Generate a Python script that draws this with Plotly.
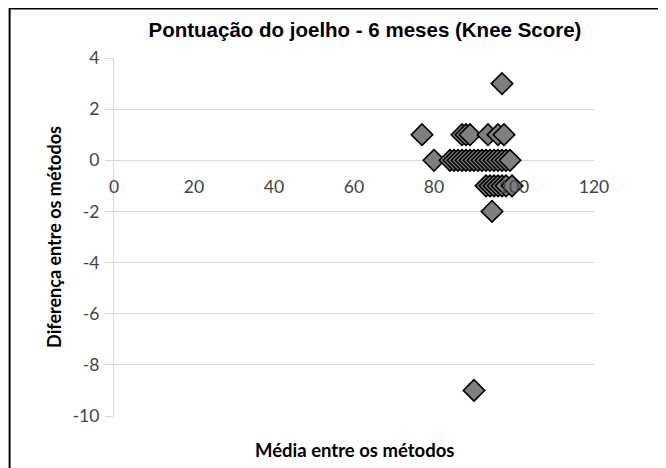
import plotly.graph_objects as go

# Média entre os métodos (x) and Diferença entre os métodos (y)
media = [77, 97,
         87, 88, 89, 93.5, 96, 97.5,
         80, 84, 85, 86, 87, 88, 89, 90, 91, 92, 93, 94, 95, 96, 97, 98, 99,
         93, 94, 95, 96, 97, 98, 99.5,
         94.5, 90]
diferenca = [1, 3,
             1, 1, 1, 1, 1, 1,
             0, 0, 0, 0, 0, 0, 0, 0, 0, 0, 0, 0, 0, 0, 0, 0, 0,
             -1, -1, -1, -1, -1, -1, -1,
             -2, -9]

x_ticks = [0, 20, 40, 60, 80, 100, 120]
y_ticks = [4, 2, 0, -2, -4, -6, -8, -10]
y_ticktext = ["4", "2", "0", "-2", "-4", "-6", "-8", "-10"]

title_text = "Pontuação do joelho - 6 meses (Knee Score)"
x_title = "Média entre os métodos"
y_title = "Diferença entre os métodos"

fig = go.Figure()
fig.add_trace(go.Scatter(
    x=media, y=diferenca, mode="markers",
    marker=dict(symbol="diamond", size=16.5, color="#7f7f7f",
                line=dict(color="#000000", width=1.6)),
    showlegend=False,
))

W, H = 658, 460
L, R, T, B = 105.5, 72, 50, 52
pw, ph = W - L - R, H - T - B
ymin, ymax = -10, 4
zero_pos = (0 - ymin) / (ymax - ymin)

tickfont = dict(family="Lato, Liberation Sans, sans-serif", size=17.5, color="#444444")
fig.update_layout(
    width=W, height=H,
    margin=dict(l=L, r=R, t=T, b=B, autoexpand=False),
    paper_bgcolor="white", plot_bgcolor="white",
    title=dict(text="<b>" + title_text + "</b>", x=357 / W, xanchor="center",
               y=1 - 22 / H, yanchor="middle", xref="container", yref="container",
               font=dict(family="Liberation Sans, Arial, sans-serif", size=20.5, color="#000")),
    xaxis=dict(range=[0, 120], tickvals=x_ticks, showgrid=False, zeroline=False,
               showline=False, anchor="free", position=zero_pos, ticks="",
               ticklabelstandoff=14, tickfont=tickfont),
    yaxis=dict(range=[ymin, ymax], tickvals=y_ticks, ticktext=y_ticktext,
               showgrid=True, gridcolor="#d9d9d9",
               gridwidth=1.2, zeroline=False, showline=True, linecolor="#d9d9d9",
               linewidth=1.2, ticks="outside", ticklen=8, tickcolor="#d9d9d9",
               ticklabelstandoff=2, tickfont=tickfont, automargin=False,
               title=dict(text="<b>" + y_title + "</b>", standoff=6,
                          font=dict(family="Lato, sans-serif", size=18, color="#000"))),
    annotations=[dict(text="<b>" + x_title + "</b>", xref="paper", yref="paper",
                      x=(346.5 - L) / pw, y=(H - B - 442) / ph,
                      xanchor="center", yanchor="middle", showarrow=False,
                      font=dict(family="Lato, sans-serif", size=18.5, color="#000"))],
    shapes=[dict(type="rect", xref="paper", yref="paper",
                 x0=(1 - L) / pw, x1=(652 - L) / pw,
                 y0=(H - B - 475) / ph, y1=(H - B - 0.5) / ph,
                 line=dict(color="#000", width=2), fillcolor="rgba(0,0,0,0)", layer="below")],
)

fig.write_html("out.html")
